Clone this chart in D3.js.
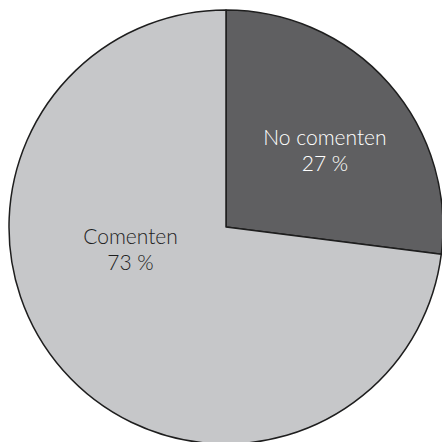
<!DOCTYPE html>
<html><head><meta charset="utf-8">
<script src="https://cdn.jsdelivr.net/npm/d3@7/dist/d3.min.js"></script>
<style>html,body{margin:0;padding:0;background:#fff;overflow:hidden}</style>
</head><body>
<svg id="c" width="442" height="442"></svg>
<script>
const categories = ["No comenten", "Comenten"];
const values = [27, 73];
const valueLabels = ["27 %", "73 %"];
const colors = ["#5f5f61", "#c6c7c9"];

const svg = d3.select("#c");
const cx = 226, cy = 227, r = 217;
const g = svg.append("g").attr("transform", `translate(${cx},${cy})`);
const pie = d3.pie().sort(null).value(d => d)(values);
const arc = d3.arc().innerRadius(0).outerRadius(r);
g.selectAll("path").data(pie).enter().append("path")
  .attr("d", arc).attr("fill", (d, i) => colors[i])
  .attr("stroke", "#1e1e1e").attr("stroke-width", 1.5).attr("stroke-linejoin", "round");

// label placement (angle offset from slice middle, radius fraction)
const place = [{da: 6.5, rf: 0.556}, {da: 24.2, rf: 0.4606}];
pie.forEach((d, i) => {
  const mid = (d.startAngle + d.endAngle) / 2 + place[i].da * Math.PI / 180;
  const rr = r * place[i].rf;
  const x = rr * Math.sin(mid), y = -rr * Math.cos(mid);
  const t = g.append("text").attr("text-anchor", "middle")
    .attr("font-family", "Lato, 'Open Sans', sans-serif").attr("font-size", 21)
    .attr("font-weight", 300)
    .attr("fill", i === 0 ? "#ffffff" : "#1e1e1e");
  t.append("tspan").attr("x", x).attr("y", y - 13).text(categories[i]);
  t.append("tspan").attr("x", x).attr("y", y + 13).text(valueLabels[i]);
});
</script>
</body></html>
